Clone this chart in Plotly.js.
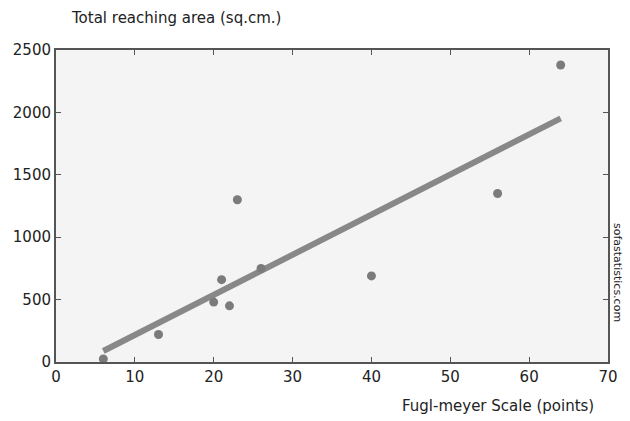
<!DOCTYPE html>
<html>
<head>
<meta charset="utf-8">
<script src="https://cdn.plot.ly/plotly-3.0.1.min.js"></script>
<style>html,body{margin:0;padding:0;background:#fff;}#chart{width:630px;height:421px;}</style>
</head>
<body>
<div id="chart"></div>
<script>
// Data
const fuglMeyer = [6, 13, 20, 21, 22, 23, 26, 40, 56, 64];
const reachingArea = [25, 220, 480, 660, 450, 1300, 750, 690, 1350, 2380];
// Line of best fit endpoints (as drawn)
const fitX = [6, 64];
const fitY = [88, 1952];
const xTickVals = [0, 10, 20, 30, 40, 50, 60, 70];
const yTickVals = [0, 500, 1000, 1500, 2000, 2500];

const traces = [
  {
    x: fitX, y: fitY, type: 'scatter', mode: 'lines',
    line: {color: '#888888', width: 6},
    hoverinfo: 'skip'
  },
  {
    x: fuglMeyer, y: reachingArea, type: 'scatter', mode: 'markers',
    marker: {color: '#7b7b7b', size: 9}
  }
];

const axisCommon = {
  showgrid: false, zeroline: false,
  showline: true, linecolor: '#555555', linewidth: 2, mirror: 'ticks',
  ticks: 'inside', ticklen: 5, tickwidth: 1, tickcolor: '#555555',
  tickfont: {family: 'DejaVu Sans, sans-serif', size: 15, color: '#222222'}
};

const pw = 630 - 56 - 22, ph = 421 - 50 - 59;
function px(xp) { return (xp - 56) / pw; }
function py(yp) { return (421 - 59 - yp) / ph; }

const titleFont = {family: 'DejaVu Sans, sans-serif', size: 15, color: '#222222'};

const layout = {
  width: 630, height: 421,
  margin: {l: 56, r: 22, t: 50, b: 59},
  paper_bgcolor: '#ffffff',
  plot_bgcolor: '#f4f4f4',
  showlegend: false,
  xaxis: Object.assign({}, axisCommon, {range: [0, 70], tickvals: xTickVals}),
  yaxis: Object.assign({}, axisCommon, {range: [0, 2500], tickvals: yTickVals}),
  annotations: [
    {text: 'Total reaching area (sq.cm.)', xref: 'paper', yref: 'paper',
     x: px(176), y: py(18), xanchor: 'center', yanchor: 'middle',
     showarrow: false, font: titleFont},
    {text: 'Fugl-meyer Scale (points)', xref: 'paper', yref: 'paper',
     x: px(498), y: py(406), xanchor: 'center', yanchor: 'middle',
     showarrow: false, font: titleFont},
    {text: 'sofastatistics.com', xref: 'paper', yref: 'paper',
     x: px(618), y: py(272), xanchor: 'center', yanchor: 'middle',
     showarrow: false, textangle: 90,
     font: {family: 'DejaVu Sans, sans-serif', size: 11, color: '#222222'}}
  ]
};

Plotly.newPlot('chart', traces, layout, {displayModeBar: false, staticPlot: true});
</script>
</body>
</html>
